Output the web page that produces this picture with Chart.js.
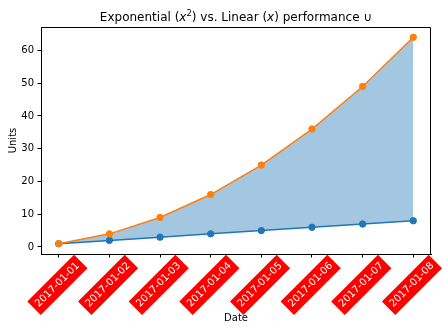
<!DOCTYPE html>
<html>
<head>
<meta charset="utf-8">
<script src="https://cdn.jsdelivr.net/npm/chart.js@4.4.0/dist/chart.umd.min.js"></script>
<style>
  html, body { margin: 0; padding: 0; background: #fff; }
  canvas { display: block; }
</style>
</head>
<body>
<canvas id="c" width="444" height="330"></canvas>
<script>
// Daily performance: linear growth (x) against exponential growth (x^2)
const dates = ['2017-01-01', '2017-01-02', '2017-01-03', '2017-01-04',
               '2017-01-05', '2017-01-06', '2017-01-07', '2017-01-08'];
const linearUnits = [1, 2, 3, 4, 5, 6, 7, 8];
const exponentialUnits = [1, 4, 9, 16, 25, 36, 49, 64];
const yTicks = [0, 10, 20, 30, 40, 50, 60];

const FAMILY = "'DejaVu Sans', 'Liberation Sans', sans-serif";
const BLUE = '#1f77b4';
const ORANGE = '#ff7f0e';

const toPoints = vals => vals.map((v, i) => ({ x: i, y: v }));

// Title with italic x and superscript, axis titles and the top/right frame
const decorations = {
  id: 'decorations',
  afterDraw(chart) {
    const { ctx, chartArea: a } = chart;
    ctx.save();
    ctx.fillStyle = '#000';
    ctx.textBaseline = 'alphabetic';

    // frame (top and right sides; left/bottom come from the axes)
    ctx.strokeStyle = '#000';
    ctx.lineWidth = 1;
    ctx.beginPath();
    ctx.moveTo(Math.round(a.left) + 0.5, Math.round(a.top) + 0.5);
    ctx.lineTo(Math.round(a.right) - 0.5, Math.round(a.top) + 0.5);
    ctx.lineTo(Math.round(a.right) - 0.5, Math.round(a.bottom) + 0.5);
    ctx.stroke();

    // title
    const normal = `12px ${FAMILY}`;
    const italic = `italic 12px ${FAMILY}`;
    const sup = `8.5px ${FAMILY}`;
    const parts = [
      ['Exponential (', normal, 0],
      ['x', italic, 0],
      ['2', sup, -5],
      [') vs. Linear (', normal, 0],
      ['x', italic, 0],
      [') performance \u222A', normal, 0]
    ];
    let total = 0;
    parts.forEach(p => { ctx.font = p[1]; total += ctx.measureText(p[0]).width; });
    let x = (a.left + a.right) / 2 - total / 2;
    const base = 20.5;
    ctx.textAlign = 'left';
    parts.forEach(p => {
      ctx.font = p[1];
      ctx.fillText(p[0], x, base + p[2]);
      x += ctx.measureText(p[0]).width;
    });

    // axis titles
    ctx.font = `10px ${FAMILY}`;
    ctx.textAlign = 'center';
    ctx.fillText('Date', (a.left + a.right) / 2, 320.5);
    ctx.save();
    ctx.translate(15.5, (a.top + a.bottom) / 2);
    ctx.rotate(-Math.PI / 2);
    ctx.fillText('Units', 0, 0);
    ctx.restore();

    ctx.restore();
  }
};

new Chart(document.getElementById('c'), {
  type: 'line',
  data: {
    datasets: [
      {
        label: 'Exponential',
        data: toPoints(exponentialUnits),
        borderColor: ORANGE,
        backgroundColor: 'rgba(31,119,180,0.41)',
        pointBackgroundColor: ORANGE,
        pointBorderColor: ORANGE,
        borderWidth: 1.5,
        pointRadius: 3.2,
        pointBorderWidth: 1,
        tension: 0,
        fill: '+1'
      },
      {
        label: 'Linear',
        data: toPoints(linearUnits),
        borderColor: BLUE,
        backgroundColor: BLUE,
        pointBackgroundColor: BLUE,
        pointBorderColor: BLUE,
        borderWidth: 1.5,
        pointRadius: 3.2,
        pointBorderWidth: 1,
        tension: 0,
        fill: false
      }
    ]
  },
  options: {
    responsive: false,
    animation: false,
    events: [],
    layout: { padding: { left: 0, top: 27, right: 13, bottom: 0 } },
    plugins: {
      legend: { display: false },
      title: { display: false },
      tooltip: { enabled: false },
      filler: { drawTime: 'beforeDatasetsDraw' }
    },
    scales: {
      x: {
        type: 'linear',
        min: -0.35,
        max: 7.35,
        afterBuildTicks: s => { s.ticks = dates.map((_, i) => ({ value: i })); },
        afterFit: s => { s.height = 76; s.paddingLeft = 0; s.paddingRight = 0; },
        grid: { display: true, drawOnChartArea: false, drawTicks: true, tickLength: 3.5, color: '#000', lineWidth: 1 },
        border: { display: true, color: '#000', width: 1 },
        ticks: {
          autoSkip: false,
          minRotation: 45,
          maxRotation: 45,
          padding: 2.5,
          labelOffset: 15,
          color: '#fff',
          font: { family: FAMILY, size: 10 },
          showLabelBackdrop: true,
          backdropColor: '#ff0000',
          backdropPadding: { top: 3.5, bottom: 3.5, left: 4, right: 4 },
          callback: v => dates[v]
        }
      },
      y: {
        type: 'linear',
        min: -2.15,
        max: 67.15,
        afterBuildTicks: s => { s.ticks = yTicks.map(v => ({ value: v })); },
        afterFit: s => { s.width = 41; },
        grid: { display: true, drawOnChartArea: false, drawTicks: true, tickLength: 3.5, color: '#000', lineWidth: 1 },
        border: { display: true, color: '#000', width: 1 },
        ticks: {
          padding: 3.5,
          color: '#000',
          font: { family: FAMILY, size: 10 },
          callback: v => String(v)
        }
      }
    }
  },
  plugins: [decorations]
});
</script>
</body>
</html>
